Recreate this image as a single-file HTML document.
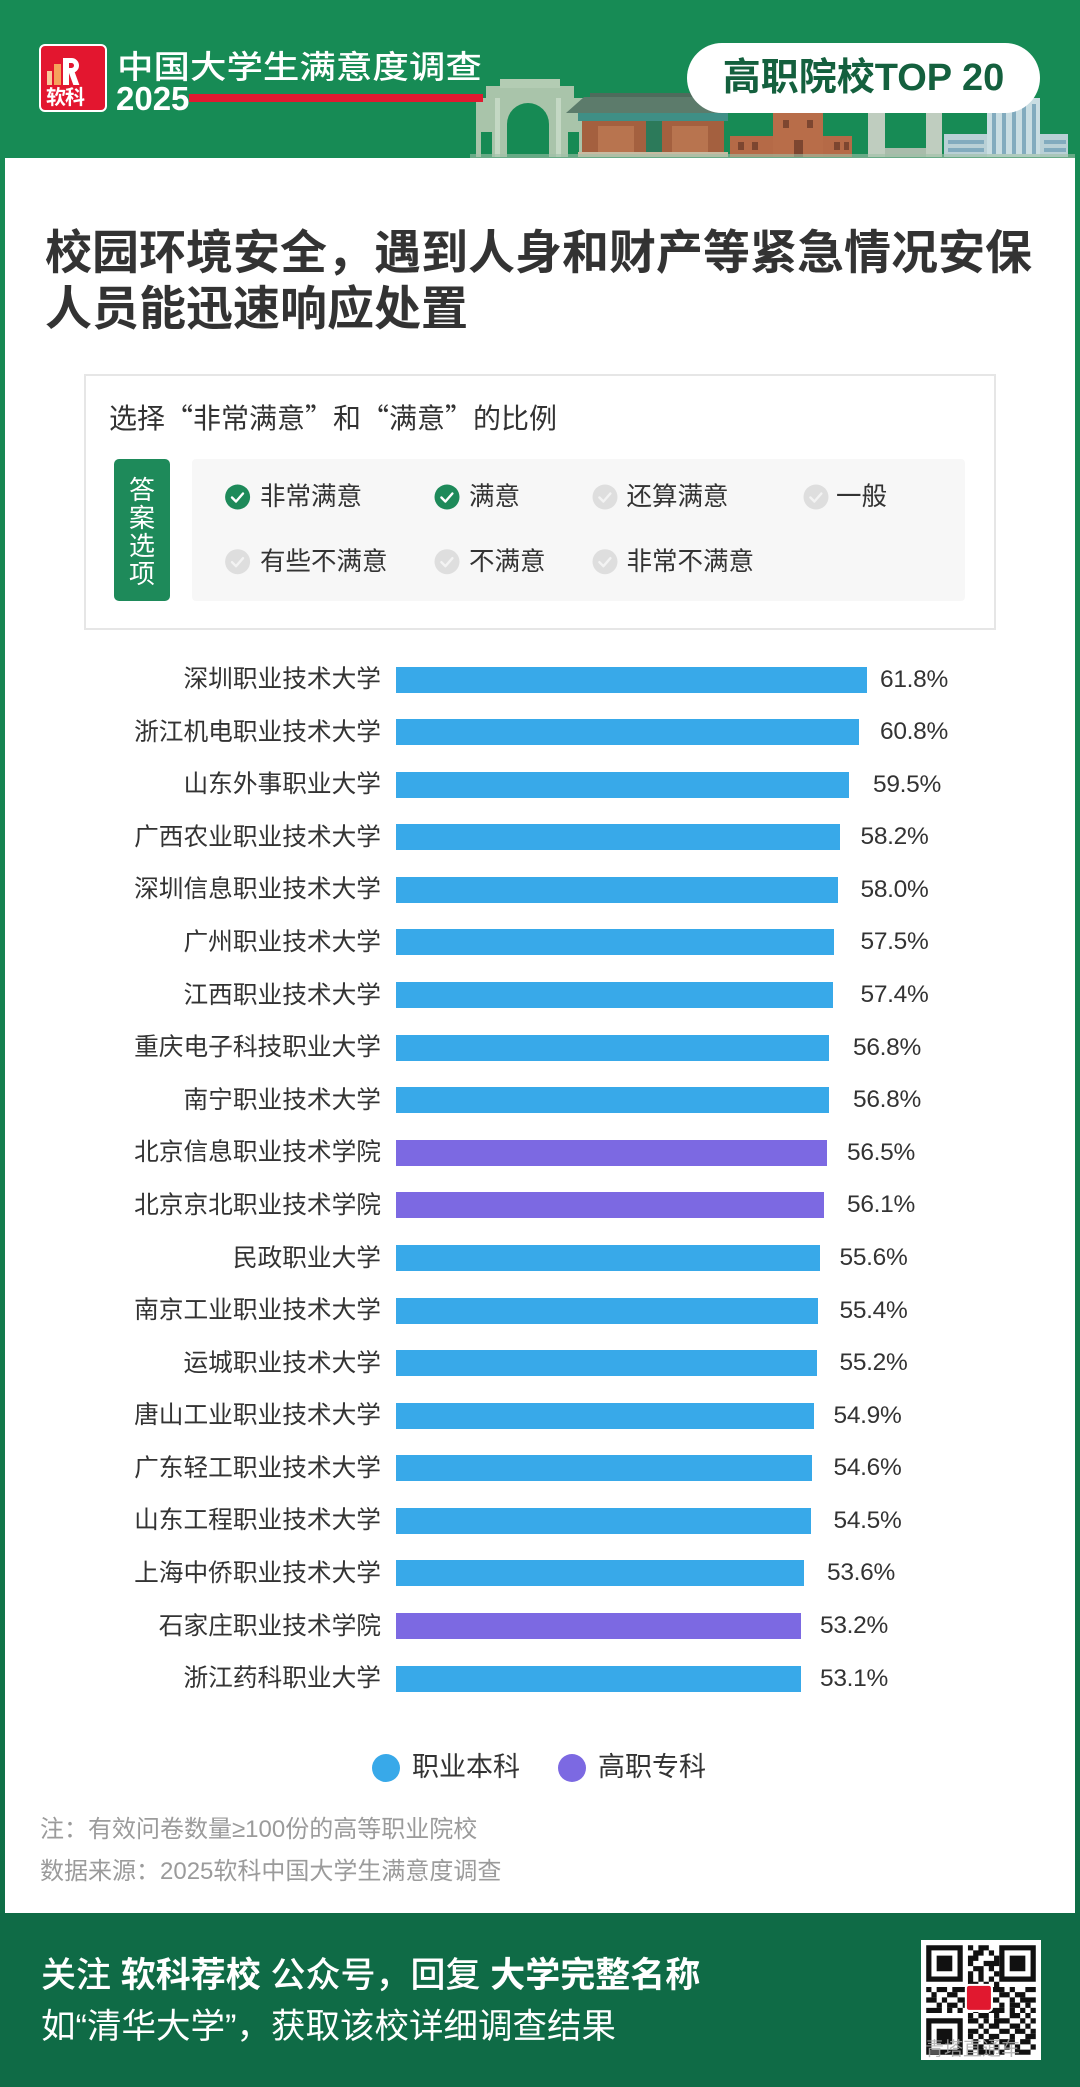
<!DOCTYPE html>
<html><head><meta charset="utf-8">
<style>
*{margin:0;padding:0;box-sizing:border-box}
html,body{width:1080px;height:2087px;overflow:hidden}
body{position:relative;background:linear-gradient(180deg,#178b55 0%,#158250 45%,#117549 75%,#0e6b46 100%);font-family:"Liberation Sans","Noto Sans CJK SC",sans-serif;color:#333}
.a{position:absolute;white-space:nowrap}
.card{position:absolute;left:5px;top:158px;width:1070px;height:1755px;background:#fff}
.foot{position:absolute;left:0;top:1913px;width:1080px;height:174px;background:#0f6b46}
.lbl{position:absolute;left:0;width:381px;text-align:right;font-size:24.7px;line-height:24.7px;color:#333;white-space:nowrap;margin-top:2.2px}
.val{position:absolute;font-family:"Liberation Sans",sans-serif;font-size:24.5px;line-height:26px;color:#333;white-space:nowrap;letter-spacing:-0.3px}
.bar{position:absolute;left:396px;height:26px}
.b{background:#38a9e9}.p{background:#7c69e2}
.opt{position:absolute;font-size:25.5px;line-height:25.5px;color:#333;white-space:nowrap;margin-top:2.3px}
</style></head><body>

<!-- header -->
<div class="a" style="left:0;top:0;width:1080px;height:158px;background:#178b55"></div>
<svg class="a" style="left:0;top:0" width="1080" height="158" viewBox="0 0 1080 158">
 <rect x="476" y="98" width="108" height="59" fill="#a9c4aa"/>
 <rect x="486" y="86" width="88" height="14" fill="#a9c4aa"/>
 <rect x="500" y="79" width="60" height="9" fill="#b3ccb3"/>
 <rect x="495" y="98" width="5" height="59" fill="#c4d8c4"/>
 <rect x="556" y="98" width="5" height="59" fill="#c4d8c4"/>
 <path d="M507 157V124a21 21 0 0 1 42 0V157z" fill="#168a54"/>
 <rect x="481" y="132" width="11" height="25" fill="#168a54"/>
 <rect x="568" y="132" width="11" height="25" fill="#168a54"/>
 <rect x="590" y="93" width="122" height="5" fill="#4e6b5c"/>
 <path d="M566 113 L584 97 L716 97 L734 113 Z" fill="#5c7b6b"/>
 <rect x="578" y="113" width="150" height="8" fill="#3f8f86"/>
 <rect x="582" y="121" width="142" height="36" fill="#a4603f"/>
 <rect x="598" y="126" width="36" height="26" fill="#b8744f"/>
 <rect x="672" y="126" width="36" height="26" fill="#b8744f"/>
 <rect x="646" y="121" width="16" height="36" fill="#2c7a5a"/>
 <rect x="578" y="152" width="150" height="5" fill="#c7bba2"/>
 <rect x="730" y="136" width="122" height="21" fill="#b56a47"/>
 <rect x="773" y="112" width="50" height="45" fill="#b86d49"/>
 <rect x="779" y="107" width="38" height="6" fill="#a85d3d"/>
 <g fill="#7d4630"><rect x="738" y="142" width="6" height="8"/><rect x="752" y="142" width="6" height="8"/><rect x="834" y="142" width="6" height="8"/><rect x="844" y="142" width="5" height="8"/><rect x="783" y="120" width="6" height="8"/><rect x="807" y="120" width="6" height="8"/><rect x="794" y="140" width="9" height="17"/></g>
 <rect x="868" y="112" width="17" height="45" fill="#bfcdbf"/>
 <rect x="926" y="112" width="16" height="45" fill="#bfcdbf"/>
 <rect x="885" y="148" width="41" height="9" fill="#a9bcab"/>
 <rect x="944" y="134" width="124" height="23" fill="#b9d0d6"/>
 <rect x="987" y="98" width="53" height="59" fill="#c9dde2"/>
 <g fill="#82abbe"><rect x="992" y="104" width="4" height="50"/><rect x="1002" y="104" width="4" height="50"/><rect x="1012" y="104" width="4" height="50"/><rect x="1022" y="104" width="4" height="50"/><rect x="1032" y="104" width="4" height="50"/><rect x="948" y="140" width="36" height="4"/><rect x="948" y="148" width="36" height="4"/><rect x="1044" y="140" width="22" height="4"/><rect x="1044" y="148" width="22" height="4"/></g>
 <rect x="470" y="154" width="605" height="4" fill="#9fbfa6" opacity=".6"/>
</svg>

<!-- logo -->
<div class="a" style="left:39px;top:44px;width:68px;height:68px;background:#e3162f;border:2px solid #fff;border-radius:6px"></div>
<div class="a" style="left:47px;top:71px;width:5px;height:14px;background:#f8c99a"></div>
<div class="a" style="left:54px;top:64px;width:7px;height:21px;background:#f6a25c"></div>
<div class="a" style="left:63px;top:58px;width:6px;height:27px;background:#fff"></div>
<div class="a" style="left:66px;top:58px;width:13px;height:15px;border:5px solid #fff;border-left:none;border-radius:0 8px 8px 0"></div>
<div class="a" style="left:71px;top:72px;width:6px;height:13px;background:#fff;transform:skewX(20deg)"></div>
<div class="a" style="left:46px;top:88px;font-size:20px;line-height:20px;font-weight:700;color:#fff;letter-spacing:-1px">软科</div>

<div class="a" style="left:117px;top:50.6px;font-size:32px;line-height:32px;color:#fff;font-weight:500;transform:scaleX(1.14);transform-origin:0 0">中国大学生满意度调查</div>
<div class="a" style="left:116px;top:82px;font-family:'Liberation Sans',sans-serif;font-size:33px;line-height:33px;color:#fff;font-weight:700">2025</div>
<div class="a" style="left:189px;top:94px;width:294px;height:8px;background:#e01930"></div>

<div class="a" style="left:687px;top:43px;width:353px;height:70px;background:#fff;border-radius:35px;text-align:center;font-size:38px;line-height:70px;color:#14603e;font-weight:600">高职院校TOP 20</div>

<!-- card -->
<div class="card"></div>

<div class="a" style="left:45px;top:229.2px;font-size:47px;line-height:47px;font-weight:700;color:#333">校园环境安全，遇到人身和财产等紧急情况安保</div>
<div class="a" style="left:45px;top:285.2px;font-size:47px;line-height:47px;font-weight:700;color:#333">人员能迅速响应处置</div>

<!-- question box -->
<div class="a" style="left:84px;top:374px;width:912px;height:256px;border:2px solid #e6e6e6;background:#fff"></div>
<div class="a" style="left:109px;top:403.4px;font-size:28px;line-height:28px;color:#333;font-family:'Noto Sans CJK SC',sans-serif">选择“非常满意”和“满意”的比例</div>
<div class="a" style="left:114px;top:459px;width:56px;height:142px;background:#1e8a5a;border-radius:5px"></div>
<div class="a" style="left:114px;top:476.3px;width:56px;text-align:center;font-size:26px;line-height:28px;color:#fff;white-space:normal">答<br>案<br>选<br>项</div>
<div class="a" style="left:192px;top:459px;width:773px;height:142px;background:#f7f7f7;border-radius:4px"></div>
<svg class="a" style="left:0;top:0" width="1080" height="640" viewBox="0 0 1080 640">
 <g stroke-width="2.4" fill="none" stroke-linecap="round" stroke-linejoin="round">
  <circle cx="237.6" cy="497" r="12.5" fill="#1e8a5a" stroke="none"/><path d="M232 497.5l4 4 7-8" stroke="#fff"/>
  <circle cx="447" cy="497" r="12.5" fill="#1e8a5a" stroke="none"/><path d="M441.4 497.5l4 4 7-8" stroke="#fff"/>
  <circle cx="605" cy="497" r="12.5" fill="#dedede" stroke="none"/><path d="M599.4 497.5l4 4 7-8" stroke="#f3f3f3"/>
  <circle cx="816" cy="497" r="12.5" fill="#dedede" stroke="none"/><path d="M810.4 497.5l4 4 7-8" stroke="#f3f3f3"/>
  <circle cx="237.6" cy="561.7" r="12.5" fill="#dedede" stroke="none"/><path d="M232 562.2l4 4 7-8" stroke="#f3f3f3"/>
  <circle cx="447" cy="561.7" r="12.5" fill="#dedede" stroke="none"/><path d="M441.4 562.2l4 4 7-8" stroke="#f3f3f3"/>
  <circle cx="605" cy="561.7" r="12.5" fill="#dedede" stroke="none"/><path d="M599.4 562.2l4 4 7-8" stroke="#f3f3f3"/>
 </g>
</svg>
<div class="opt" style="left:260px;top:482.8px">非常满意</div>
<div class="opt" style="left:469px;top:482.8px">满意</div>
<div class="opt" style="left:626.5px;top:482.8px">还算满意</div>
<div class="opt" style="left:836px;top:482.8px">一般</div>
<div class="opt" style="left:260px;top:547.5px">有些不满意</div>
<div class="opt" style="left:469px;top:547.5px">不满意</div>
<div class="opt" style="left:626.5px;top:547.5px">非常不满意</div>

<!-- bars -->
<div class="lbl" style="top:666px">深圳职业技术大学</div><div class="bar b" style="top:666.5px;width:470.9px"></div><div class="val" style="left:880px;top:666.5px">61.8%</div>
<div class="lbl" style="top:718.6px">浙江机电职业技术大学</div><div class="bar b" style="top:719.1px;width:463.3px"></div><div class="val" style="left:880px;top:719.1px">60.8%</div>
<div class="lbl" style="top:771.2px">山东外事职业大学</div><div class="bar b" style="top:771.7px;width:453.4px"></div><div class="val" style="left:873px;top:771.7px">59.5%</div>
<div class="lbl" style="top:823.7px">广西农业职业技术大学</div><div class="bar b" style="top:824.2px;width:443.5px"></div><div class="val" style="left:860.5px;top:824.2px">58.2%</div>
<div class="lbl" style="top:876.3px">深圳信息职业技术大学</div><div class="bar b" style="top:876.8px;width:442px"></div><div class="val" style="left:860.5px;top:876.8px">58.0%</div>
<div class="lbl" style="top:928.9px">广州职业技术大学</div><div class="bar b" style="top:929.4px;width:438.2px"></div><div class="val" style="left:860.5px;top:929.4px">57.5%</div>
<div class="lbl" style="top:981.5px">江西职业技术大学</div><div class="bar b" style="top:982px;width:437.4px"></div><div class="val" style="left:860.5px;top:982px">57.4%</div>
<div class="lbl" style="top:1034.1px">重庆电子科技职业大学</div><div class="bar b" style="top:1034.6px;width:432.8px"></div><div class="val" style="left:853px;top:1034.6px">56.8%</div>
<div class="lbl" style="top:1086.7px">南宁职业技术大学</div><div class="bar b" style="top:1087.2px;width:432.8px"></div><div class="val" style="left:853px;top:1087.2px">56.8%</div>
<div class="lbl" style="top:1139.2px">北京信息职业技术学院</div><div class="bar p" style="top:1139.7px;width:430.5px"></div><div class="val" style="left:847px;top:1139.7px">56.5%</div>
<div class="lbl" style="top:1191.8px">北京京北职业技术学院</div><div class="bar p" style="top:1192.3px;width:427.5px"></div><div class="val" style="left:847px;top:1192.3px">56.1%</div>
<div class="lbl" style="top:1244.4px">民政职业大学</div><div class="bar b" style="top:1244.9px;width:423.7px"></div><div class="val" style="left:839.5px;top:1244.9px">55.6%</div>
<div class="lbl" style="top:1297px">南京工业职业技术大学</div><div class="bar b" style="top:1297.5px;width:422.1px"></div><div class="val" style="left:839.5px;top:1297.5px">55.4%</div>
<div class="lbl" style="top:1349.6px">运城职业技术大学</div><div class="bar b" style="top:1350.1px;width:420.6px"></div><div class="val" style="left:839.5px;top:1350.1px">55.2%</div>
<div class="lbl" style="top:1402.1px">唐山工业职业技术大学</div><div class="bar b" style="top:1402.6px;width:418.3px"></div><div class="val" style="left:833.5px;top:1402.6px">54.9%</div>
<div class="lbl" style="top:1454.7px">广东轻工职业技术大学</div><div class="bar b" style="top:1455.2px;width:416.1px"></div><div class="val" style="left:833.5px;top:1455.2px">54.6%</div>
<div class="lbl" style="top:1507.3px">山东工程职业技术大学</div><div class="bar b" style="top:1507.8px;width:415.3px"></div><div class="val" style="left:833.5px;top:1507.8px">54.5%</div>
<div class="lbl" style="top:1559.9px">上海中侨职业技术大学</div><div class="bar b" style="top:1560.4px;width:408.4px"></div><div class="val" style="left:827px;top:1560.4px">53.6%</div>
<div class="lbl" style="top:1612.5px">石家庄职业技术学院</div><div class="bar p" style="top:1613px;width:405.4px"></div><div class="val" style="left:820px;top:1613px">53.2%</div>
<div class="lbl" style="top:1665.1px">浙江药科职业大学</div><div class="bar b" style="top:1665.6px;width:404.6px"></div><div class="val" style="left:820px;top:1665.6px">53.1%</div>

<!-- legend -->
<div class="a" style="left:372px;top:1754px;width:28px;height:28px;border-radius:50%;background:#38a9e9"></div>
<div class="a" style="left:412px;top:1754.4px;font-size:27px;line-height:27px;color:#333">职业本科</div>
<div class="a" style="left:557.5px;top:1754px;width:28px;height:28px;border-radius:50%;background:#7c69e2"></div>
<div class="a" style="left:598px;top:1754.4px;font-size:27px;line-height:27px;color:#333">高职专科</div>

<!-- notes -->
<div class="a" style="left:40px;top:1817.9px;font-size:24px;line-height:24px;color:#9b9b9b">注：有效问卷数量≥100份的高等职业院校</div>
<div class="a" style="left:40px;top:1859.9px;font-size:24px;line-height:24px;color:#9b9b9b">数据来源：2025软科中国大学生满意度调查</div>

<!-- footer -->
<div class="foot"></div>
<div class="a" style="left:41px;top:1957.6px;font-size:35px;line-height:35px;color:#fff;font-weight:500">关注 <b style="font-weight:700">软科荐校</b> 公众号，回复 <b style="font-weight:700">大学完整名称</b></div>
<div class="a" style="left:41px;top:2009.5px;font-size:34.5px;line-height:34.5px;color:#fff;font-weight:400">如“清华大学”，获取该校详细调查结果</div>

<svg class="a" style="left:921px;top:1940px" width="120" height="120" viewBox="-1 -1 23 23">
 <rect x="-1" y="-1" width="23" height="23" fill="#fff"/>
 <g fill="#111">
  <path d="M0 0h7v7h-7zM1 1v5h5v-5zM2 2h3v3h-3z" fill-rule="evenodd"/>
  <path d="M14 0h7v7h-7zM15 1v5h5v-5zM16 2h3v3h-3z" fill-rule="evenodd"/>
  <path d="M0 14h7v7h-7zM1 15v5h5v-5zM2 16h3v3h-3z" fill-rule="evenodd"/>
  <path d="M8 0h1v1h-1zM10 0h2v1h-2zM9 1h2v1h-2zM12 1h1v1h-1zM8 2h2v1h-2zM13 2h1v1h-1zM8 3h1v1h-1zM11 3h3v1h-3zM9 4h2v1h-2zM12 4h1v1h-1zM8 5h1v1h-1zM10 5h1v1h-1zM13 5h1v1h-1zM8 6h1v1h-1zM10 6h1v1h-1zM12 6h1v1h-1zM8 7h2v1h-2zM11 7h1v1h-1zM13 7h1v1h-1z"/>
  <path d="M0 8h1v1h-1zM2 8h2v1h-2zM5 8h3v1h-3zM10 8h1v1h-1zM12 8h3v1h-3zM16 8h1v1h-1zM19 8h2v1h-2z"/>
  <path d="M1 9h1v1h-1zM4 9h2v1h-2zM8 9h2v1h-2zM11 9h1v1h-1zM14 9h2v1h-2zM17 9h2v1h-2z"/>
  <path d="M0 10h2v1h-2zM3 10h1v1h-1zM6 10h3v1h-3zM10 10h1v1h-1zM12 10h2v1h-2zM16 10h1v1h-1zM18 10h3v1h-3z"/>
  <path d="M2 11h1v1h-1zM4 11h2v1h-2zM7 11h1v1h-1zM9 11h3v1h-3zM14 11h1v1h-1zM16 11h2v1h-2zM19 11h1v1h-1z"/>
  <path d="M0 12h3v1h-3zM4 12h1v1h-1zM6 12h1v1h-1zM9 12h1v1h-1zM12 12h3v1h-3zM16 12h1v1h-1zM18 12h1v1h-1zM20 12h1v1h-1z"/>
  <path d="M8 13h1v1h-1zM10 13h2v1h-2zM13 13h1v1h-1zM16 13h2v1h-2zM19 13h1v1h-1z"/>
  <path d="M8 14h2v1h-2zM11 14h1v1h-1zM13 14h3v1h-3zM18 14h1v1h-1zM20 14h1v1h-1z"/>
  <path d="M10 15h1v1h-1zM12 15h2v1h-2zM16 15h2v1h-2zM19 15h1v1h-1z"/>
  <path d="M8 16h2v1h-2zM11 16h1v1h-1zM14 16h2v1h-2zM17 16h2v1h-2zM20 16h1v1h-1z"/>
  <path d="M8 17h1v1h-1zM10 17h1v1h-1zM12 17h2v1h-2zM16 17h1v1h-1zM19 17h2v1h-2z"/>
  <path d="M9 18h1v1h-1zM11 18h2v1h-2zM14 18h3v1h-3zM18 18h2v1h-2z"/>
  <path d="M9 19h2v1h-2zM13 19h1v1h-1zM15 19h1v1h-1zM17 19h1v1h-1zM20 19h1v1h-1z"/>
  <path d="M8 20h1v1h-1zM10 20h3v1h-3zM14 20h1v1h-1zM17 20h3v1h-3z"/>
 </g>
 <rect x="7.6" y="7.6" width="5" height="5" rx=".6" fill="#e1182f" stroke="#fff" stroke-width=".4"/>
</svg>
<div class="a" style="left:925px;top:2040px;font-size:19px;line-height:20px;color:rgba(170,170,170,0.85)">青塔直通车</div>

</body></html>
